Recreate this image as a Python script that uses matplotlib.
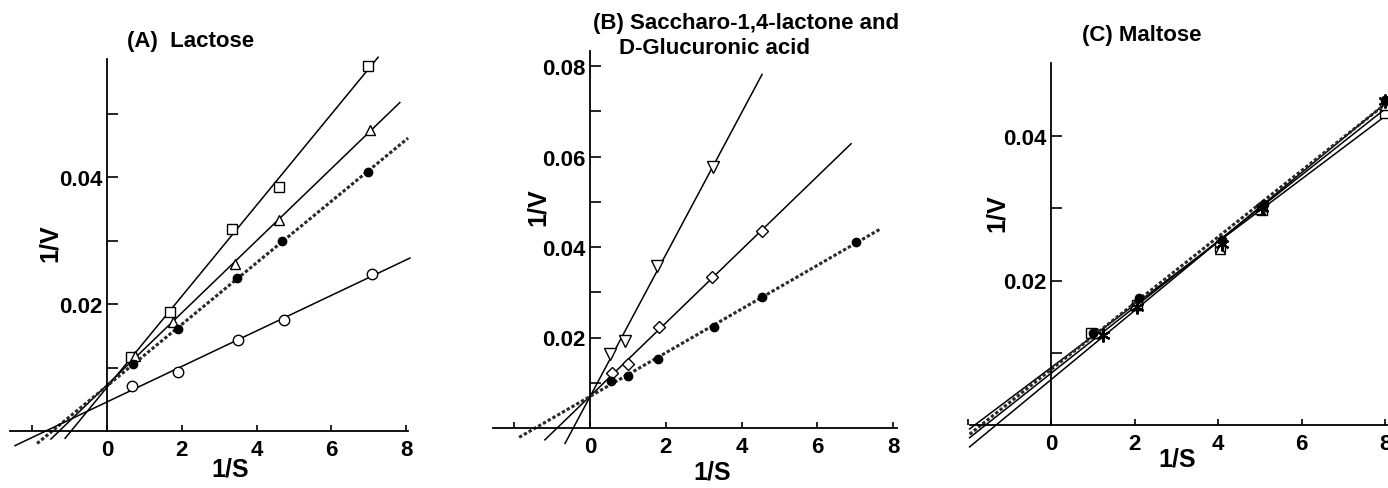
import numpy as np
import matplotlib
matplotlib.use('Agg')
import matplotlib.pyplot as plt

plt.rcParams['font.family'] = ['Liberation Sans', 'DejaVu Sans']
plt.rcParams['font.weight'] = 'bold'

W, H = 1388, 489

# ---- panel A: lactose ----
a_sq_x = [0.64, 1.68, 3.35, 4.60, 6.98]
a_sq_y = [0.0117, 0.0187, 0.0318, 0.0384, 0.0575]
a_tri_x = [0.75, 1.76, 3.42, 4.60, 7.03]
a_tri_y = [0.0118, 0.0172, 0.0263, 0.0333, 0.0474]
a_fc_x = [0.70, 1.90, 3.47, 4.67, 6.98]
a_fc_y = [0.0105, 0.0161, 0.0241, 0.0299, 0.0408]
a_oc_x = [0.68, 1.90, 3.50, 4.72, 7.08]
a_oc_y = [0.0071, 0.0093, 0.0143, 0.0175, 0.0247]
a_ranges = [(-1.12, 7.25), (-1.50, 7.83), (-1.87, 8.05), (-2.46, 8.10)]

# ---- panel B: saccharo-1,4-lactone and D-glucuronic acid ----
b_tri_x = [0.53, 0.92, 1.77, 3.25]
b_tri_y = [0.0164, 0.0193, 0.0358, 0.0577]
b_dia_x = [0.57, 1.00, 1.83, 3.23, 4.53]
b_dia_y = [0.0122, 0.0141, 0.0223, 0.0333, 0.0436]
b_fc_x = [0.55, 1.00, 1.79, 3.27, 4.54, 7.02]
b_fc_y = [0.0104, 0.0115, 0.0153, 0.0223, 0.0290, 0.0411]
b_ranges = [(-0.66, 4.54), (-1.19, 6.89), (-1.87, 7.68)]

# ---- panel C: maltose ----
c_sq_x = [0.95, 2.05, 4.05, 5.05, 8.0]
c_sq_y = [0.0128, 0.0166, 0.0247, 0.0298, 0.0432]
c_tri_x = [1.10, 2.00, 4.05, 5.00, 8.0]
c_tri_y = [0.0127, 0.0166, 0.0244, 0.0299, 0.0443]
c_st_x = [1.25, 2.05, 4.10, 5.05, 8.0]
c_st_y = [0.0125, 0.0164, 0.0251, 0.0301, 0.0449]
c_fc_x = [1.00, 2.10, 4.10, 5.10, 8.0]
c_fc_y = [0.0127, 0.0176, 0.0256, 0.0306, 0.0450]
c_ranges = [(-1.95, 8.05)] * 4


def px_axes(fig, left, right, top, bottom):
    return fig.add_axes([left / W, 1 - bottom / H, (right - left) / W, (bottom - top) / H])


def style(ax, xb, yb, yticks, yminor):
    for s in ['top', 'right']:
        ax.spines[s].set_visible(False)
    ax.spines['left'].set_position(('data', 0))
    ax.spines['bottom'].set_position(('data', 0))
    ax.spines['left'].set_bounds(0, yb)
    ax.spines['bottom'].set_bounds(xb[0], xb[1])
    for s in ['left', 'bottom']:
        ax.spines[s].set_linewidth(1.3)
    ax.set_xticks([0, 2, 4, 6, 8])
    ax.set_xticks([-2], minor=True)
    ax.set_yticks(yticks)
    ax.set_yticks(yminor, minor=True)
    ax.tick_params(axis='y', which='both', direction='in', length=8, width=1.2,
                   labelsize=16, pad=3)
    ax.tick_params(axis='x', which='both', direction='in', length=4, width=1.2,
                   labelsize=16, pad=6)
    ax.patch.set_alpha(0)


def series(ax, x, y, rng, marker, ms, filled=False, dotted=False):
    k, b = np.polyfit(x, y, 1)
    xl = np.array(rng)
    if dotted:
        ax.plot(xl, k * xl + b, color='#2a2a2a', lw=2.2, ls=(0, (1.1, 0.7)), clip_on=False)
    else:
        ax.plot(xl, k * xl + b, color='black', lw=1.1, clip_on=False)
    if marker == '*':
        ax.plot(x, y, ls='none', marker=(6, 2, 0), ms=ms, mec='black', mew=1.6, clip_on=False)
    else:
        ax.plot(x, y, ls='none', marker=marker, ms=ms, mec='black', mew=1.0,
                mfc='black' if filled else 'white', clip_on=False)


def ftext(fig, x, y, s, **kw):
    fig.text(x / W, 1 - y / H, s, fontweight='bold', **kw)


fig = plt.figure(figsize=(W / 100, H / 100), dpi=100)

# panel A
axa = px_axes(fig, 107 - 2.65 * 37.4, 107 + 8.1 * 37.4, 432 - 0.0595 * 6350, 432 + 0.0025 * 6350)
axa.set_xlim(-2.65, 8.1)
axa.set_ylim(-0.0025, 0.0595)
style(axa, (-2.6, 8.05), 0.0586, [0.02, 0.04], [0.01, 0.03, 0.05])
series(axa, a_sq_x, a_sq_y, a_ranges[0], 's', 7.5)
series(axa, a_tri_x, a_tri_y, a_ranges[1], '^', 7.5)
series(axa, a_fc_x, a_fc_y, a_ranges[2], 'o', 6, filled=True, dotted=True)
series(axa, a_oc_x, a_oc_y, a_ranges[3], 'o', 7.5)
ftext(fig, 127, 41, '(A)  Lactose', fontsize=16, ha='left', va='center')
ftext(fig, 50, 243, '1/V', fontsize=18, rotation=90, ha='center', va='center')
ftext(fig, 230, 470, '1/S', fontsize=18, ha='center', va='center')

# panel B
axb = px_axes(fig, 590 - 2.6 * 37.9, 590 + 8.2 * 37.9, 429 - 0.0845 * 4525, 429 + 0.004 * 4525)
axb.set_xlim(-2.6, 8.2)
axb.set_ylim(-0.004, 0.0845)
style(axb, (-2.55, 8.1), 0.0833, [0.02, 0.04, 0.06, 0.08], [0.01, 0.03, 0.05, 0.07])
series(axb, b_tri_x, b_tri_y, b_ranges[0], 'v', 8)
series(axb, b_dia_x, b_dia_y, b_ranges[1], 'D', 6.5)
series(axb, b_fc_x, b_fc_y, b_ranges[2], 'o', 6, filled=True, dotted=True)
ftext(fig, 593, 23, '(B) Saccharo-1,4-lactone and', fontsize=16, ha='left', va='center')
ftext(fig, 619, 49, 'D-Glucuronic acid', fontsize=16, ha='left', va='center')
ftext(fig, 538, 207, '1/V', fontsize=18, rotation=90, ha='center', va='center')
ftext(fig, 712, 472, '1/S', fontsize=18, ha='center', va='center')

# panel C
axc = px_axes(fig, 1051 - 2.0 * 41.75, 1051 + 8.05 * 41.75, 426 - 0.0505 * 7225, 426 + 0.0025 * 7225)
axc.set_xlim(-2.0, 8.05)
axc.set_ylim(-0.0025, 0.0505)
style(axc, (-1.95, 8.05), 0.0501, [0.02, 0.04], [0.01, 0.03])
series(axc, c_sq_x, c_sq_y, c_ranges[0], 's', 7.5)
series(axc, c_tri_x, c_tri_y, c_ranges[1], '^', 7.5)
series(axc, c_st_x, c_st_y, c_ranges[2], '*', 10)
series(axc, c_fc_x, c_fc_y, c_ranges[3], 'o', 6, filled=True, dotted=True)
ftext(fig, 1082, 35, '(C) Maltose', fontsize=16, ha='left', va='center')
ftext(fig, 997, 213, '1/V', fontsize=18, rotation=90, ha='center', va='center')
ftext(fig, 1177, 460, '1/S', fontsize=18, ha='center', va='center')

fig.savefig('out.png', dpi=100)
